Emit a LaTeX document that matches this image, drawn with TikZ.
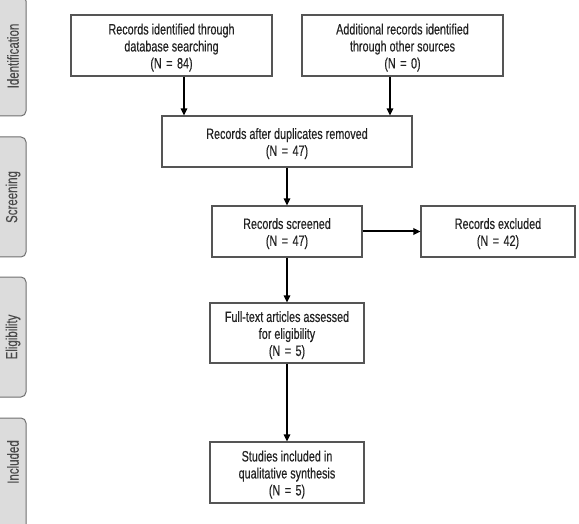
\documentclass[tikz,border=0pt]{standalone}
\usepackage{fontspec}
\setmainfont{Liberation Sans}[FakeStretch=0.72,FakeBold=0.3]
\usetikzlibrary{arrows.meta}
\definecolor{txt}{HTML}{222222}
\definecolor{boxline}{HTML}{555555}
\definecolor{sidefill}{HTML}{DCDCDC}
\definecolor{sideline}{HTML}{707070}
\definecolor{sidetxt}{HTML}{4A4A4A}
\newcommand{\eqsign}{\hspace{4.5pt}=\hspace{4.5pt}}
\tikzset{
  x=1pt, y=-1pt,
  stepbox/.style={draw=boxline, line width=1.1pt, fill=white, align=center, text=txt,
    font=\fontsize{15}{17}\selectfont, inner sep=0pt},
  arr/.style={-{Triangle[length=7pt,width=6.5pt]}, line width=1.5pt, black},
  sidebar/.style={draw=sideline, fill=sidefill, line width=1pt, rounded corners=5pt},
  sidelabel/.style={rotate=90, text=sidetxt, font=\fontsize{16}{17}\selectfont, inner sep=0pt}
}
\begin{document}
\begin{tikzpicture}
\useasboundingbox (0,0) rectangle (579,524);
\clip (0,0) rectangle (579,524);
% side bars
\draw[sidebar] (-10,-4) rectangle (26,116);
\draw[sidebar] (-10,137) rectangle (26,257);
\draw[sidebar] (-10,277) rectangle (26,397);
\draw[sidebar] (-10,418) rectangle (26,538);
\node[sidelabel] (s1) at (13,56) {Identification};
\node[sidelabel] (s2) at (13,197) {Screening};
\node[sidelabel] (s3) at (13,337) {Eligibility};
\node[sidelabel] (s4) at (13,462) {Included};
% boxes
\node[stepbox, minimum width=201pt, minimum height=61pt] (b1) at (171.5,45.5)
  {\rule{0pt}{15pt}Records identified through\\database searching\\(N\eqsign84)};
\node[stepbox, minimum width=201pt, minimum height=61pt] (b2) at (402.5,45.5)
  {\rule{0pt}{15pt}Additional records identified\\through other sources\\(N\eqsign0)};
\node[stepbox, minimum width=250pt, minimum height=51pt] (b3) at (287,141.5)
  {\rule{0pt}{15pt}Records after duplicates removed\\(N\eqsign47)};
\node[stepbox, minimum width=150pt, minimum height=51pt] (b4) at (287,231.5)
  {\rule{0pt}{15pt}Records screened\\(N\eqsign47)};
\node[stepbox, minimum width=154pt, minimum height=51pt] (b5) at (498,231.5)
  {\rule{0pt}{15pt}Records excluded\\(N\eqsign42)};
\node[stepbox, minimum width=154pt, minimum height=60pt] (b6) at (287,333)
  {\rule{0pt}{15pt}Full-text articles assessed\\for eligibility\\(N\eqsign5)};
\node[stepbox, minimum width=154pt, minimum height=61pt] (b7) at (287,472.5)
  {\rule{0pt}{15pt}Studies included in\\qualitative synthesis\\(N\eqsign5)};
% connectors
\coordinate (a1) at (184,0);
\coordinate (a2) at (390,0);
\draw[arr] (b1.south -| a1) -- (b3.north -| a1);
\draw[arr] (b2.south -| a2) -- (b3.north -| a2);
\draw[arr] (b3) -- (b4);
\draw[arr, line width=2pt] (b4) -- (b5);
\draw[arr] (b4) -- (b6);
\draw[arr] (b6) -- (b7);
\end{tikzpicture}
\end{document}
